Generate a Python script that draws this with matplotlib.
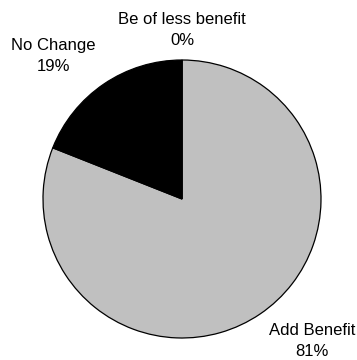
import matplotlib.pyplot as plt

labels = ["Add Benefit", "No Change", "Be of less benefit"]
shares = [81, 19, 0]
colors = ["#C0C0C0", "#000000", "#FFFFFF"]

# label anchor points in pixel space (x, y from bottom)
label_pos = [(312, 19), (53, 304), (182, 330)]

fig = plt.figure(figsize=(3.57, 3.6), dpi=100)
ax = fig.add_axes([0, 0, 1, 1])

ax.pie(shares, colors=colors, startangle=90, counterclock=False,
       radius=139, center=(182, 161), frame=True,
       wedgeprops=dict(edgecolor="black", linewidth=0.9))
ax.set_xlim(0, 357)
ax.set_ylim(0, 360)
ax.set_aspect("equal")
ax.axis("off")

for lab, val, (x, y) in zip(labels, shares, label_pos):
    ax.text(x, y, f"{lab}\n{val}%", ha="center", va="center",
            fontsize=12, family="Liberation Sans", linespacing=1.45)

fig.savefig("out.png", dpi=100, facecolor="white")
